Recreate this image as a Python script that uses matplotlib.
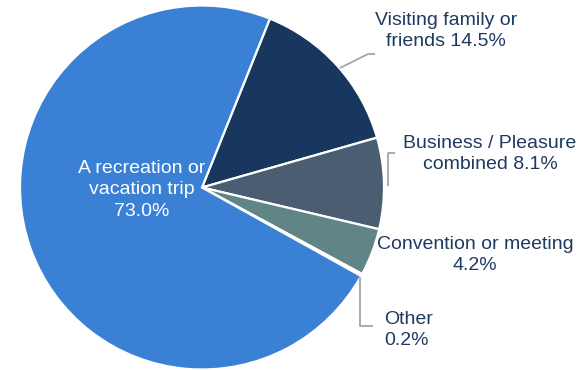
import matplotlib
matplotlib.use("Agg")
import matplotlib.pyplot as plt

plt.rcParams['font.family'] = ['Liberation Sans', 'DejaVu Sans']

categories = ["Visiting family or\nfriends", "Business / Pleasure\ncombined",
              "Convention or meeting\n", "Other\n", "A recreation or\nvacation trip\n"]
shares = [14.5, 8.1, 4.2, 0.2, 73.0]
colors = ["#17375E", "#4A5D71", "#5F8587", "#8FA9B4", "#3A80D5"]

W, H = 586, 370
fig = plt.figure(figsize=(W / 100, H / 100), dpi=100)
ax = fig.add_axes([0, 0, 1, 1])

cx, cy, r = 202, H - 187.5, 182
start = 68.1
ax.pie(shares, colors=colors, startangle=start, counterclock=False,
       center=(cx, cy), radius=r, frame=True,
       wedgeprops=dict(edgecolor='white', linewidth=1.6))
ax.set_xlim(0, W)
ax.set_ylim(0, H)
ax.set_aspect('equal')
ax.axis('off')

text_col = "#1F3A60"
line_col = "#A6A6A6"
fs = 14
ls = 1.36


def lbl(i):
    sep = '' if categories[i].endswith('\n') else ' '
    return f"{categories[i]}{sep}{shares[i]:.1f}%"


# slice labels (x, y measured from the top edge)
ax.text(446, H - 31, lbl(0), ha='center', va='center', fontsize=fs,
        color=text_col, linespacing=ls)
ax.text(490, H - 154, lbl(1), ha='center', va='center', fontsize=fs,
        color=text_col, linespacing=ls)
ax.text(475, H - 255, lbl(2), ha='center', va='center', fontsize=fs,
        color=text_col, linespacing=ls)
ax.text(384, H - 330, lbl(3), ha='left', va='center', fontsize=fs,
        color=text_col, linespacing=ls)
ax.text(142, H - 190, lbl(4), ha='center', va='center', fontsize=fs,
        color='white', linespacing=ls)


def leader(pts):
    xs = [p[0] for p in pts]
    ys = [H - p[1] for p in pts]
    ax.plot(xs, ys, color=line_col, linewidth=1.3, solid_capstyle='butt')


leader([(340, 68), (368, 54), (375, 54)])
leader([(388, 186), (388, 153), (395, 153)])
leader([(360, 277), (360, 326), (373, 326)])

fig.savefig("out.png", dpi=100)
